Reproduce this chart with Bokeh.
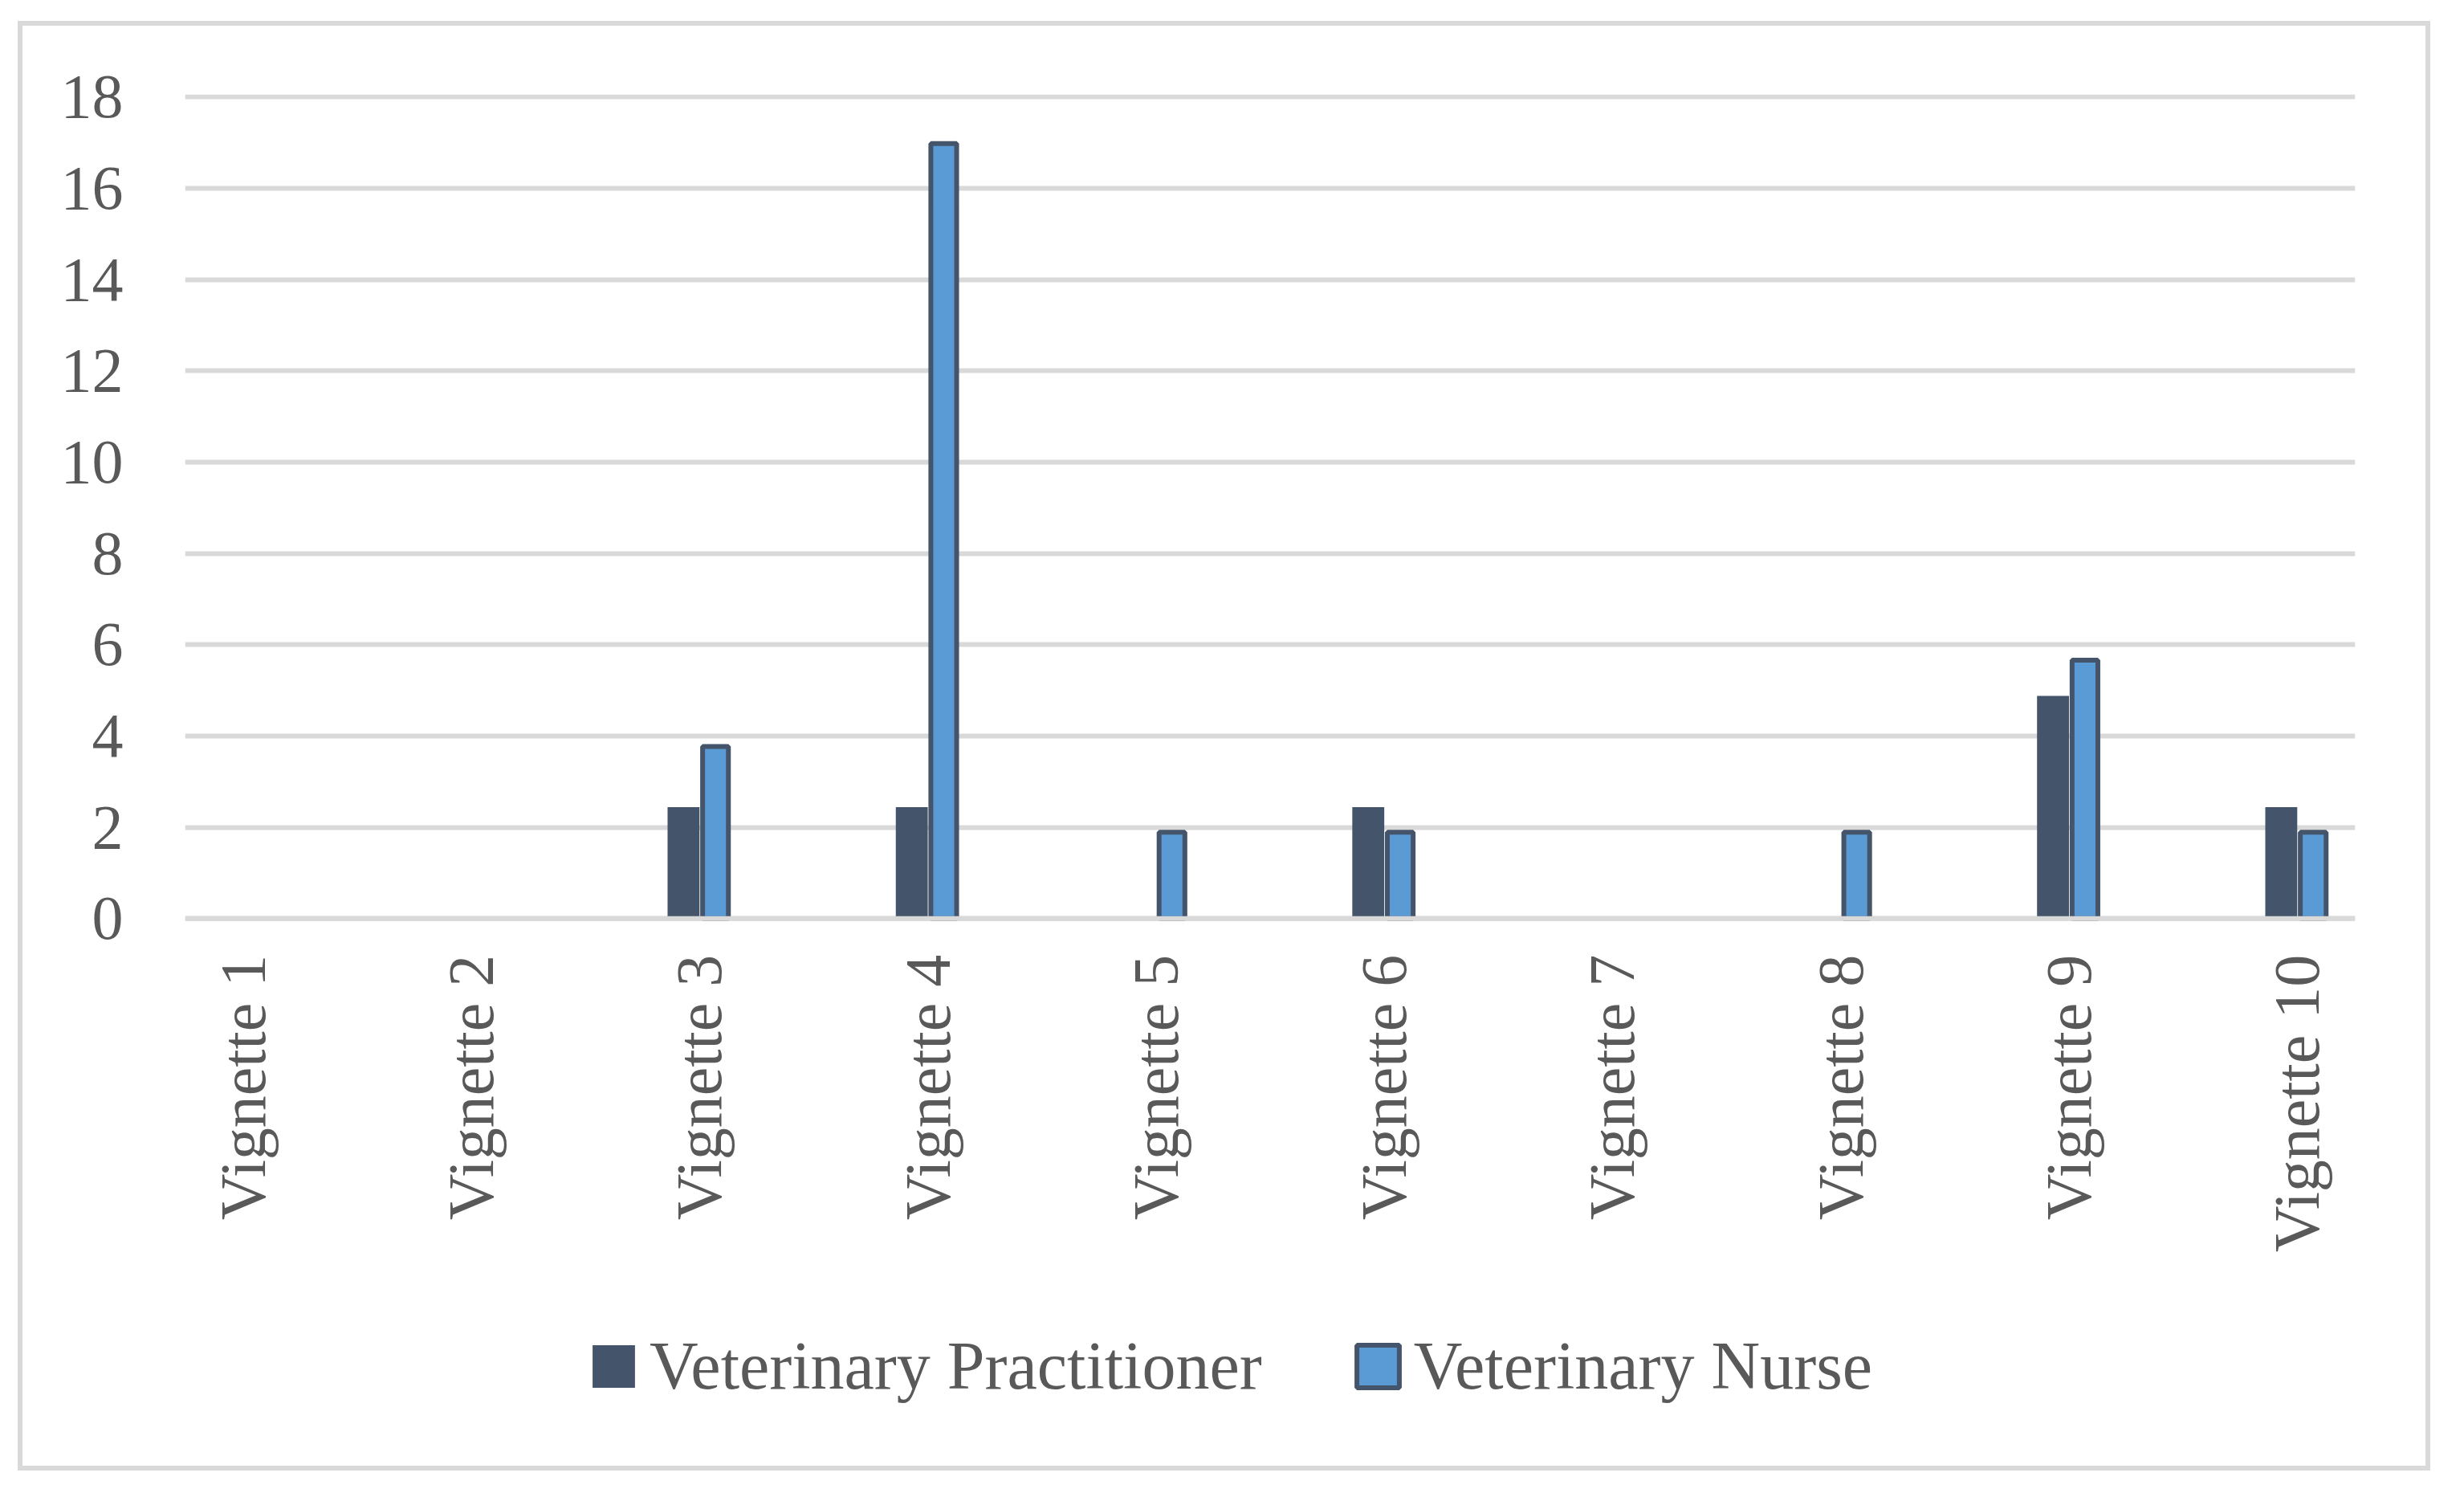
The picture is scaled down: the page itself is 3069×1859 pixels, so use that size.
import math
from bokeh.plotting import figure
from bokeh.models import (Range1d, FixedTicker, Legend, LegendItem, Span,
                          ColumnDataSource, InlineStyleSheet)
from bokeh.embed import file_html
from bokeh.resources import INLINE

# ---- data ----
categories = ["Vignette 1", "Vignette 2", "Vignette 3", "Vignette 4", "Vignette 5",
              "Vignette 6", "Vignette 7", "Vignette 8", "Vignette 9", "Vignette 10"]
practitioner = [0, 0, 2.44, 2.44, 0, 2.44, 0, 0, 4.88, 2.44]
nurse = [0, 0, 3.77, 16.98, 1.89, 1.89, 0, 1.89, 5.66, 1.89]
series_names = ["Veterinary Practitioner", "Veterinary Nurse"]
y_ticks = [0, 2, 4, 6, 8, 10, 12, 14, 16, 18]

# ---- styling ----
PRAC = "#44546A"
NURSE = "#5B9BD5"
GRID = "#D9D9D9"
TEXT = "#595959"
FONT = "Liberation Serif"

pos = list(range(1, len(categories) + 1))

# frame extends below the value axis so the category labels and the legend
# sit inside it; the category axis is pinned at y = 0
p = figure(width=3040, height=1842,
           x_range=Range1d(pos[0] - 0.254, pos[-1] + 0.254),
           y_range=Range1d(-11.507, y_ticks[-1] + 0.06),
           output_backend="svg", toolbar_location=None,
           min_border_left=230, min_border_right=107,
           min_border_top=117, min_border_bottom=45)

prac_src = ColumnDataSource(dict(
    x=[pos[i] - 0.07 for i, v in enumerate(practitioner) if v > 0],
    top=[v for v in practitioner if v > 0]))
nurse_src = ColumnDataSource(dict(
    x=[pos[i] + 0.07 for i, v in enumerate(nurse) if v > 0],
    top=[v for v in nurse if v > 0]))

r1 = p.vbar(x="x", top="top", bottom=0, width=0.14, source=prac_src,
            fill_color=PRAC, line_color=None)
r2 = p.vbar(x="x", top="top", bottom=0, width=0.113, source=nurse_src,
            fill_color=NURSE, line_color=PRAC, line_width=6)

p.add_layout(Span(location=0, dimension="width", line_color=GRID, line_width=6))

# axes
p.xaxis.fixed_location = 0
p.xaxis.ticker = FixedTicker(ticks=pos)
p.xaxis.major_label_overrides = {pos[i]: categories[i] for i in range(len(pos))}
p.xaxis.major_label_orientation = math.pi / 2
p.xaxis.major_label_standoff = 45
p.yaxis.ticker = FixedTicker(ticks=y_ticks)
p.yaxis.major_label_standoff = 77
for ax in (p.xaxis, p.yaxis):
    ax.axis_line_color = None
    ax.major_tick_line_color = None
    ax.minor_tick_line_color = None
    ax.major_tick_out = 0
    ax.major_tick_in = 0
    ax.major_label_text_font = FONT
    ax.major_label_text_color = TEXT
p.xaxis.major_label_text_font_size = "80px"
p.yaxis.major_label_text_font_size = "78px"

p.xgrid.grid_line_color = None
p.ygrid.grid_line_color = GRID
p.ygrid.grid_line_width = 6
p.outline_line_color = None

legend = Legend(items=[LegendItem(label=series_names[0], renderers=[r1]),
                      LegendItem(label=series_names[1], renderers=[r2])],
                orientation="horizontal", location=(501, 48),
                label_text_font=FONT, label_text_font_size="84px",
                label_text_color=TEXT, glyph_width=66, glyph_height=66,
                label_standoff=12, spacing=111, padding=0, margin=0,
                border_line_color=None, background_fill_alpha=0)
p.add_layout(legend)

# outer chart-area border (as in the reference's framed chart)
p.stylesheets = [InlineStyleSheet(css="""
:host { position: relative; }
:host::after {
  content: "";
  position: absolute;
  left: 21.5px; top: 25.5px; right: 13.5px; bottom: 11px;
  border: 6px solid #D9D9D9;
  pointer-events: none;
  z-index: 100;
}
""")]

open("out.html", "w").write(file_html(p, INLINE))
